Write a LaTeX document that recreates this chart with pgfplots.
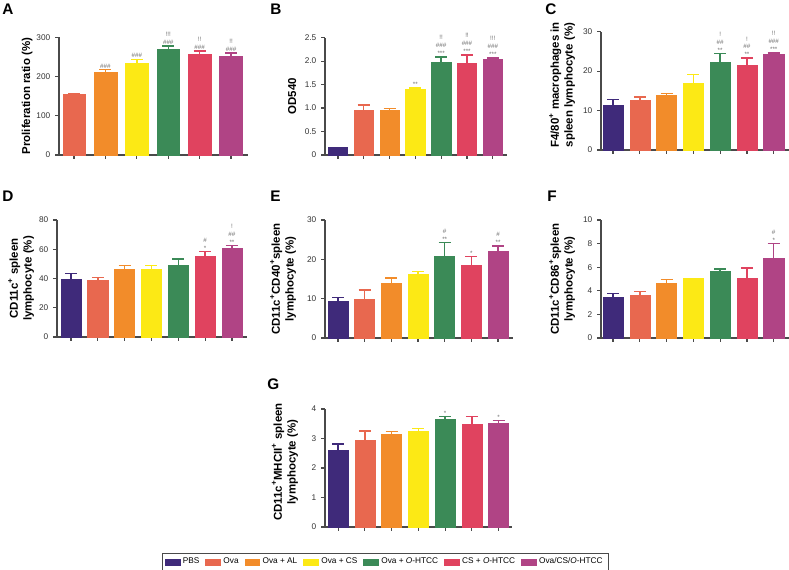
\documentclass[border=0pt]{standalone}
\usepackage{pgfplots}
\pgfplotsset{compat=1.18}
\usepackage{fontspec}
\setmainfont{Liberation Sans}
\definecolor{cPBS}{HTML}{3F2A7A}
\definecolor{cOva}{HTML}{E8684F}
\definecolor{cAL}{HTML}{F28C2A}
\definecolor{cCS}{HTML}{FCE915}
\definecolor{cGr}{HTML}{3B8A57}
\definecolor{cRed}{HTML}{E0435F}
\definecolor{cPur}{HTML}{B04485}
\definecolor{axc}{HTML}{4A4A4A}
\definecolor{tkc}{HTML}{333333}
\definecolor{annc}{HTML}{707070}
\pgfplotsset{
  panel/.style={scale only axis, anchor=south west,
    axis x line*=bottom, axis y line*=left,
    axis line style={draw=axc, line width=1.1pt},
    tick style={draw=axc, line width=0.9pt},
    tick align=outside, major tick length=3pt,
    ymin=0, xtick={0,...,6}, xticklabels={},
    bar width=0.75,
    tick label style={font=\fontsize{6.2}{7}\selectfont, text=tkc},
    /pgf/number format/assume math mode=true,
    every axis y label/.style={at={(axis description cs:#1)}, rotate=90, anchor=center,
      font=\bfseries\fontsize{8.6}{10.3}\selectfont, align=center},
    clip=false},
  bb/.style={ybar, bar shift=0pt, fill=#1, draw=#1,
    error bars/.cd, y dir=plus, y explicit,
    error bar style={draw=#1, line width=1.1pt},
    error mark options={draw=#1, rotate=90, mark size=4.5pt, line width=1.1pt}},
}
\tikzset{anno/.style={font=\fontsize{4.7}{5.9}\selectfont, text=annc, inner sep=0.8pt, align=center, anchor=south}}
\begin{document}
\begin{tikzpicture}
% ---------------- A
\begin{axis}[panel={-0.169,0.5}, at={(44.25pt,311.25pt)}, width=141.75pt, height=88.3pt,
  xmin=-0.48, xmax=5.54, ymax=300, ytick={0,100,200,300}, xtick={0,...,5}, bar width=0.72,
  ylabel={Proliferation ratio (\%)}]
\addplot[bb=cOva] coordinates {(0,155) +- (0,2)};
\addplot[bb=cAL]  coordinates {(1,211) +- (0,7)};
\addplot[bb=cCS]  coordinates {(2,235) +- (0,9)};
\addplot[bb=cGr]  coordinates {(3,270) +- (0,8)};
\addplot[bb=cRed] coordinates {(4,257) +- (0,8)};
\addplot[bb=cPur] coordinates {(5,252) +- (0,7.5)};
\node[anno] at (axis cs:1,218) {\#\#\#};
\node[anno] at (axis cs:2,244) {\#\#\#};
\node[anno] at (axis cs:3,278) {!!!\\\#\#\#};
\node[anno] at (axis cs:4,265) {!!\\\#\#\#};
\node[anno] at (axis cs:5,259.5) {!!\\\#\#\#};
\end{axis}
% ---------------- B
\begin{axis}[panel={-0.181,0.5}, at={(243.75pt,311.25pt)}, width=136.5pt, height=88pt,
  xmin=-0.5, xmax=6.55, ymax=2.5, ytick={0,0.5,1,1.5,2,2.5}, yticklabels={0,0.5,1.0,1.5,2.0,2.5},
  ylabel={OD540}]
\addplot[bb=cPBS] coordinates {(0,0.155) +- (0,0.01)};
\addplot[bb=cOva] coordinates {(1,0.945) +- (0,0.12)};
\addplot[bb=cAL]  coordinates {(2,0.945) +- (0,0.04)};
\addplot[bb=cCS]  coordinates {(3,1.40) +- (0,0.03)};
\addplot[bb=cGr]  coordinates {(4,1.97) +- (0,0.12)};
\addplot[bb=cRed] coordinates {(5,1.96) +- (0,0.17)};
\addplot[bb=cPur] coordinates {(6,2.05) +- (0,0.02)};
\node[anno] at (axis cs:3,1.43) {**};
\node[anno] at (axis cs:4,2.09) {!!\\\#\#\#\\***};
\node[anno] at (axis cs:5,2.13) {!!\\\#\#\#\\***};
\node[anno] at (axis cs:6,2.07) {!!!\\\#\#\#\\***};
\end{axis}
% ---------------- C
\begin{axis}[panel={-0.207,0.55}, at={(450.75pt,315pt)}, width=141pt, height=88.7pt,
  xmin=-0.45, xmax=6.57, ymax=30, ytick={0,10,20,30},
  ylabel={F4/80\textsuperscript{+} macrophages in\\spleen lymphocyte (\%)}]
\addplot[bb=cPBS] coordinates {(0,11.3) +- (0,1.5)};
\addplot[bb=cOva] coordinates {(1,12.6) +- (0,0.9)};
\addplot[bb=cAL]  coordinates {(2,14.0) +- (0,0.3)};
\addplot[bb=cCS]  coordinates {(3,16.9) +- (0,2.3)};
\addplot[bb=cGr]  coordinates {(4,22.2) +- (0,2.3)};
\addplot[bb=cRed] coordinates {(5,21.6) +- (0,1.7)};
\addplot[bb=cPur] coordinates {(6,24.2) +- (0,0.4)};
\node[anno] at (axis cs:4,24.5) {!\\\#\#\\**};
\node[anno] at (axis cs:5,23.3) {!\\\#\#\\**};
\node[anno] at (axis cs:6,24.6) {!!\\\#\#\#\\***};
\end{axis}
% ---------------- D
\begin{axis}[panel={-0.189,0.5}, at={(42.75pt,174.75pt)}, width=142.5pt, height=87.75pt,
  xmin=-0.52, xmax=6.56, ymax=80, ytick={0,20,40,60,80},
  ylabel={CD11c\textsuperscript{+} spleen\\lymphocyte (\%)}]
\addplot[bb=cPBS] coordinates {(0,39.2) +- (0,4.3)};
\addplot[bb=cOva] coordinates {(1,39.0) +- (0,1.8)};
\addplot[bb=cAL]  coordinates {(2,46.5) +- (0,2.3)};
\addplot[bb=cCS]  coordinates {(3,46.3) +- (0,2.5)};
\addplot[bb=cGr]  coordinates {(4,49.3) +- (0,3.9)};
\addplot[bb=cRed] coordinates {(5,55.3) +- (0,3.0)};
\addplot[bb=cPur] coordinates {(6,60.8) +- (0,1.6)};
\node[anno] at (axis cs:5,58.3) {\#\\*};
\node[anno] at (axis cs:6,62.4) {!\\\#\#\\**};
\end{axis}
% ---------------- E
\begin{axis}[panel={-0.223,0.5}, at={(243.75pt,174pt)}, width=141pt, height=88.5pt,
  xmin=-0.49, xmax=6.56, ymax=30, ytick={0,10,20,30},
  ylabel={CD11c\textsuperscript{+}CD40\textsuperscript{+}spleen\\lymphocyte (\%)}]
\addplot[bb=cPBS] coordinates {(0,9.4) +- (0,0.9)};
\addplot[bb=cOva] coordinates {(1,9.8) +- (0,2.4)};
\addplot[bb=cAL]  coordinates {(2,13.9) +- (0,1.4)};
\addplot[bb=cCS]  coordinates {(3,16.1) +- (0,0.8)};
\addplot[bb=cGr]  coordinates {(4,20.7) +- (0,3.6)};
\addplot[bb=cRed] coordinates {(5,18.6) +- (0,2.1)};
\addplot[bb=cPur] coordinates {(6,22.1) +- (0,1.3)};
\node[anno] at (axis cs:4,24.3) {\#\\**};
\node[anno] at (axis cs:5,20.7) {*};
\node[anno] at (axis cs:6,23.4) {\#\\**};
\end{axis}
% ---------------- F
\begin{axis}[panel={-0.207,0.5}, at={(450.75pt,174pt)}, width=141pt, height=88.5pt,
  xmin=-0.45, xmax=6.57, ymax=10, ytick={0,2,4,6,8,10},
  ylabel={CD11c\textsuperscript{+}CD86\textsuperscript{+}spleen\\lymphocyte (\%)}]
\addplot[bb=cPBS] coordinates {(0,3.48) +- (0,0.28)};
\addplot[bb=cOva] coordinates {(1,3.65) +- (0,0.28)};
\addplot[bb=cAL]  coordinates {(2,4.60) +- (0,0.36)};
\addplot[bb=cCS]  coordinates {(3,5.04) +- (0,0.02)};
\addplot[bb=cGr]  coordinates {(4,5.64) +- (0,0.22)};
\addplot[bb=cRed] coordinates {(5,5.04) +- (0,0.90)};
\addplot[bb=cPur] coordinates {(6,6.78) +- (0,1.24)};
\node[anno] at (axis cs:6,8.02) {\#\\*};
\end{axis}
% ---------------- G
\begin{axis}[panel={-0.214,0.55}, at={(243.75pt,32.25pt)}, width=140.25pt, height=88.5pt,
  xmin=-0.49, xmax=6.5, ymax=4, ytick={0,1,2,3,4},
  ylabel={CD11c\textsuperscript{+}MHCII\textsuperscript{+} spleen\\lymphocyte (\%)},
  legend image code/.code={\draw[#1] (0pt,-2.3pt) rectangle (11pt,2.3pt);},
  legend columns=7, legend cell align=left,
  legend style={at={(axis description cs:-0.872,-0.22)}, anchor=north west,
    draw=axc, line width=0.5pt, font=\fontsize{6.2}{7.2}\selectfont,
    inner xsep=2pt, inner ysep=1.5pt,
    /tikz/every even column/.append style={column sep=2.5pt}}]
\addlegendimage{draw=cPBS, fill=cPBS}
\addlegendimage{draw=cOva, fill=cOva}
\addlegendimage{draw=cAL, fill=cAL}
\addlegendimage{draw=cCS, fill=cCS}
\addlegendimage{draw=cGr, fill=cGr}
\addlegendimage{draw=cRed, fill=cRed}
\addlegendimage{draw=cPur, fill=cPur}
\legend{PBS, Ova, Ova + AL, Ova + CS, Ova + \textit{O}-HTCC, CS + \textit{O}-HTCC, Ova/CS/\textit{O}-HTCC}
\addplot[bb=cPBS] coordinates {(0,2.61) +- (0,0.21)};
\addplot[bb=cOva] coordinates {(1,2.95) +- (0,0.31)};
\addplot[bb=cAL]  coordinates {(2,3.13) +- (0,0.10)};
\addplot[bb=cCS]  coordinates {(3,3.26) +- (0,0.08)};
\addplot[bb=cGr]  coordinates {(4,3.66) +- (0,0.09)};
\addplot[bb=cRed] coordinates {(5,3.47) +- (0,0.28)};
\addplot[bb=cPur] coordinates {(6,3.50) +- (0,0.11)};
\node[anno] at (axis cs:4,3.75) {*};
\node[anno] at (axis cs:6,3.61) {*};
\end{axis}
% ---------------- panel letters
\begin{scope}[every node/.style={anchor=north west, inner sep=0pt, font=\bfseries\fontsize{11.5}{12}\selectfont}]
\node at (1.5pt,424.5pt) {A};
\node at (202.5pt,424.5pt) {B};
\node at (408.75pt,424.5pt) {C};
\node at (1.5pt,284.25pt) {D};
\node at (202.5pt,284.25pt) {E};
\node at (410.25pt,284.25pt) {F};
\node at (200.25pt,143.25pt) {G};
\end{scope}
\pgfresetboundingbox
\path (0pt,0pt) rectangle (591.75pt,427.5pt);
\end{tikzpicture}
\end{document}
